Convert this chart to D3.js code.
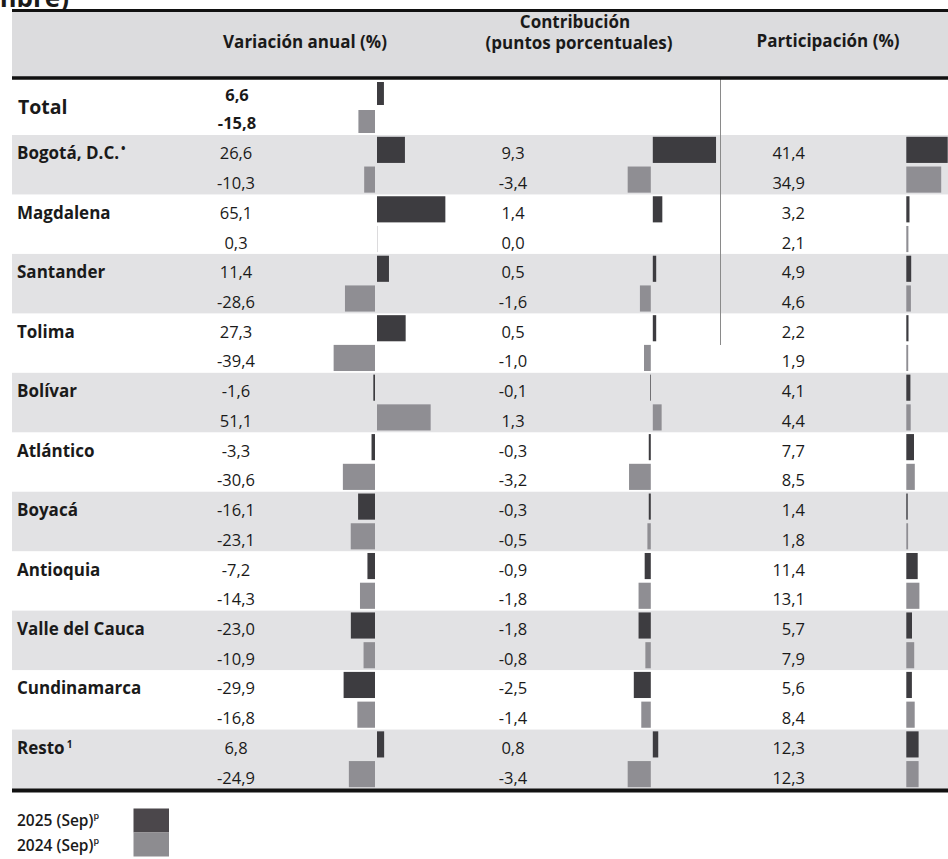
<!DOCTYPE html>
<html>
<head>
<meta charset="utf-8">
<script src="https://cdn.jsdelivr.net/npm/d3@7"></script>
<style>
  body { margin: 0; background: #fff; }
  svg { display: block; font-family: "Open Sans", sans-serif; }
</style>
</head>
<body>
<div id="chart"></div>
<script>
const regions = ["Bogotá, D.C.", "Magdalena", "Santander", "Tolima", "Bolívar", "Atlántico",
  "Boyacá", "Antioquia", "Valle del Cauca", "Cundinamarca", "Resto"];
const regionSup = ["•", "", "", "", "", "", "", "", "", "", "1"];
const var2025 = [26.6, 65.1, 11.4, 27.3, -1.6, -3.3, -16.1, -7.2, -23.0, -29.9, 6.8];
const var2024 = [-10.3, 0.3, -28.6, -39.4, 51.1, -30.6, -23.1, -14.3, -10.9, -16.8, -24.9];
const con2025 = [9.3, 1.4, 0.5, 0.5, -0.1, -0.3, -0.3, -0.9, -1.8, -2.5, 0.8];
const con2024 = [-3.4, 0.0, -1.6, -1.0, 1.3, -3.2, -0.5, -1.8, -0.8, -1.4, -3.4];
const par2025 = [41.4, 3.2, 4.9, 2.2, 4.1, 7.7, 1.4, 11.4, 5.7, 5.6, 12.3];
const par2024 = [34.9, 2.1, 4.6, 1.9, 4.4, 8.5, 1.8, 13.1, 7.9, 8.4, 12.3];
const totalVar = [6.6, -15.8];
const periods = ["2025 (Sep)", "2024 (Sep)"];

const W = 948, H = 859;
const dark = "#3d3c40", light = "#8f8e93", band = "#e2e2e4", ink = "#1a1a1a";
const fmt = v => d3.format(".1f")(v).replace(".", ",").replace("\u2212", "-");

const svg = d3.select("#chart").append("svg")
  .attr("width", W).attr("height", H);

const left = 12;

// cut-off title line at top
svg.append("text").attr("x", -9).attr("y", 7)
  .attr("font-size", 26).attr("font-weight", 700).attr("fill", ink)
  .text("mbre)");

// header band
svg.append("rect").attr("x", left).attr("y", 11).attr("width", W - left).attr("height", 66)
  .attr("fill", "#dcdcde");

// rows
const yR = d3.scaleLinear().domain([0, regions.length]).range([135, 789]);
const yT = d3.scaleLinear().domain([0, 2]).range([79, 135]);
const sub = (yR(1) - yR(0)) / 2;

regions.forEach((r, i) => {
  if (i % 2 === 0) {
    svg.append("rect").attr("x", left).attr("y", yR(i)).attr("width", W - left)
      .attr("height", yR(i + 1) - yR(i)).attr("fill", band);
  }
});

// divider between contribution and participation
svg.append("line").attr("x1", 720.5).attr("x2", 720.5).attr("y1", 79).attr("y2", 345)
  .attr("stroke", "#8a8a8a").attr("stroke-width", 1);

// scales for the three bar columns
const xVar = d3.scaleLinear().domain([0, 1]).range([376, 377.05]);
const xCon = d3.scaleLinear().domain([0, 1]).range([651.8, 658.6]);
const xPar = d3.scaleLinear().domain([0, 1]).range([905.3, 906.3]);

function bar(x, v, y, h, color) {
  const x0 = x(0), x1 = x(v);
  const gap = 1;
  const xa = v >= 0 ? x0 + gap : x1 - gap;
  svg.append("rect")
    .attr("x", xa).attr("y", y).attr("width", Math.abs(x1 - x0)).attr("height", h)
    .attr("fill", color);
}

const cols = [
  { x: xVar, a: var2025, b: var2024, tx: 236, anchor: "middle" },
  { x: xCon, a: con2025, b: con2024, tx: 513, anchor: "middle" },
  { x: xPar, a: par2025, b: par2024, tx: 805, anchor: "end" }
];

regions.forEach((r, i) => {
  const y0 = yR(i);
  cols.forEach(c => {
    [c.a[i], c.b[i]].forEach((v, k) => {
      const ys = y0 + k * sub;
      bar(c.x, v, ys + 1.8, sub - 3.6, k === 0 ? dark : light);
      svg.append("text").attr("x", c.tx).attr("y", ys + sub / 2 + 9.5)
        .attr("text-anchor", c.anchor).attr("font-size", 16.5).attr("font-weight", 500)
        .attr("fill", ink).text(fmt(v));
    });
  });
  const t = svg.append("text").attr("x", 17).attr("y", y0 + sub / 2 + 9.5)
    .attr("font-size", 17).attr("font-weight", 700).attr("fill", ink).text(r);
  if (regionSup[i]) {
    t.append("tspan").attr("dx", 2).attr("dy", -6)
      .attr("font-size", regionSup[i] === "•" ? 12 : 10).text(regionSup[i]);
  }
});

// total row
totalVar.forEach((v, k) => {
  const ys = yT(k), h = yT(k + 1) - yT(k);
  bar(xVar, v, ys + 3, h - 5, k === 0 ? dark : light);
  svg.append("text").attr("x", 237).attr("y", ys + h / 2 + 8)
    .attr("text-anchor", "middle").attr("font-size", 16.5).attr("font-weight", 700)
    .attr("fill", ink).text(fmt(v));
});
svg.append("text").attr("x", 18).attr("y", 113.5)
  .attr("font-size", 19.5).attr("font-weight", 700).attr("fill", ink).text("Total");

// header text
const head = [
  { x: 305, y: 48, t: "Variación anual (%)" },
  { x: 575, y: 28, t: "Contribución" },
  { x: 579, y: 49, t: "(puntos porcentuales)" },
  { x: 828, y: 47, t: "Participación (%)" }
];
svg.selectAll(".head").data(head).enter().append("text")
  .attr("x", d => d.x).attr("y", d => d.y).attr("text-anchor", "middle")
  .attr("font-size", 17).attr("font-weight", 700).attr("fill", ink)
  .text(d => d.t);

// rules
[[10.5, 3], [78, 3.5], [790.5, 4]].forEach(([y, w]) => {
  svg.append("line").attr("x1", left).attr("x2", W).attr("y1", y).attr("y2", y)
    .attr("stroke", "#111").attr("stroke-width", w);
});

// legend
periods.forEach((p, k) => {
  svg.append("rect").attr("x", 133.5).attr("y", 808.5 + k * 24).attr("width", 35.5)
    .attr("height", 24).attr("fill", k === 0 ? "#4b474b" : "#8d8c90");
  const t = svg.append("text").attr("x", 17).attr("y", 826 + k * 25)
    .attr("font-size", 15.5).attr("font-weight", 600).attr("fill", ink).text(p);
  t.append("tspan").attr("dy", -7).attr("font-size", 9).text("p");
});
</script>
</body>
</html>
